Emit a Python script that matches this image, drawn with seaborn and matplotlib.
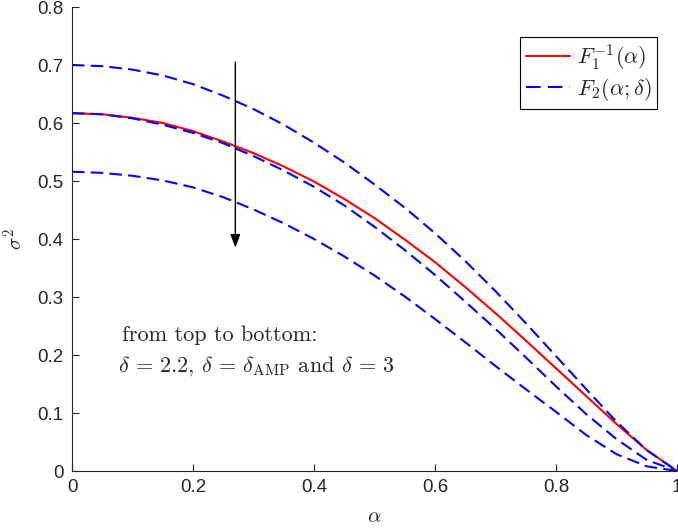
import numpy as np
import pandas as pd
import matplotlib
matplotlib.use("Agg")
import matplotlib.pyplot as plt
import seaborn as sns
from matplotlib.lines import Line2D

alpha = [0.0, 0.05, 0.1, 0.15, 0.2, 0.25, 0.3, 0.35, 0.4, 0.45, 0.5,
         0.55, 0.6, 0.65, 0.7, 0.75, 0.8, 0.85, 0.9, 0.95, 1.0]
f1_inv = [0.617, 0.615, 0.609, 0.600, 0.586, 0.568, 0.548, 0.525, 0.499, 0.469, 0.436,
          0.399, 0.360, 0.317, 0.272, 0.225, 0.177, 0.129, 0.081, 0.036, 0.0]
f2_d22 = [0.700, 0.698, 0.692, 0.682, 0.667, 0.647, 0.624, 0.597, 0.566, 0.532, 0.494,
          0.454, 0.410, 0.362, 0.310, 0.255, 0.198, 0.141, 0.085, 0.036, 0.0]
f2_damp = [0.617, 0.615, 0.608, 0.597, 0.583, 0.565, 0.543, 0.518, 0.490, 0.458, 0.421,
           0.381, 0.338, 0.292, 0.245, 0.196, 0.146, 0.098, 0.055, 0.019, 0.0]
f2_d3 = [0.516, 0.514, 0.509, 0.501, 0.489, 0.472, 0.451, 0.427, 0.400, 0.370, 0.337,
         0.301, 0.262, 0.222, 0.181, 0.141, 0.102, 0.062, 0.029, 0.008, 0.0]

xticks = [0, 0.2, 0.4, 0.6, 0.8, 1]
xticklabels = ["0", "0.2", "0.4", "0.6", "0.8", "1"]
yticks = [0, 0.1, 0.2, 0.3, 0.4, 0.5, 0.6, 0.7, 0.8]
yticklabels = ["0", "0.1", "0.2", "0.3", "0.4", "0.5", "0.6", "0.7", "0.8"]

sns.set_style("ticks")
plt.rcParams['font.family'] = ['Liberation Sans', 'DejaVu Sans']
plt.rcParams['mathtext.fontset'] = 'cm'
plt.rcParams['xtick.direction'] = 'in'
plt.rcParams['ytick.direction'] = 'in'

axcol = '#262626'
fig = plt.figure(figsize=(6.78, 5.29), dpi=100)
ax = fig.add_axes([72/678, 1-471/529, 605/678, (471-7)/529])

df = pd.DataFrame({"alpha": alpha, "f1": f1_inv, "d22": f2_d22, "damp": f2_damp, "d3": f2_d3})
dash = (0, (6, 3))
sns.lineplot(data=df, x="alpha", y="f1", ax=ax, color="#ff0000", linewidth=1.5)
sns.lineplot(data=df, x="alpha", y="d22", ax=ax, color="#0000ff", linewidth=1.5, linestyle=dash)
sns.lineplot(data=df, x="alpha", y="damp", ax=ax, color="#0000ff", linewidth=1.5, linestyle=dash)
sns.lineplot(data=df, x="alpha", y="d3", ax=ax, color="#0000ff", linewidth=1.5, linestyle=dash)

ax.set_xlim(0, 1)
ax.set_ylim(0, 0.8)
ax.set_xticks(xticks)
ax.set_xticklabels(xticklabels)
ax.set_yticks(yticks)
ax.set_yticklabels(yticklabels)
ax.tick_params(axis='both', labelsize=13.5, colors=axcol, length=5, width=0.8, pad=6)
for s in ['top', 'right']:
    ax.spines[s].set_visible(False)
for s in ['left', 'bottom']:
    ax.spines[s].set_color(axcol)
    ax.spines[s].set_linewidth(0.8)
ax.set_xlabel(r"$\alpha$", fontsize=15, color=axcol, labelpad=8)
ax.set_ylabel(r"$\sigma^2$", fontsize=15, color=axcol, labelpad=8)

ax.annotate("", xy=(0.27, 0.385), xytext=(0.27, 0.705),
            arrowprops=dict(arrowstyle="-|>,head_length=0.8,head_width=0.3", color="black", lw=1.0,
                            shrinkA=0, shrinkB=0))

ax.text(0.083, 0.234, "from top to bottom:", fontsize=16, family='cmr10', va='center')
ax.text(0.076, 0.181,
        r"$\delta\,=\,2.2$, $\delta\,=\,\delta_{\rm AMP}$ and $\delta\,=\,3$",
        fontsize=16, family='cmr10', va='center')

handles = [Line2D([], [], color="#ff0000", lw=1.5),
           Line2D([], [], color="#0000ff", lw=1.5, linestyle=(0, (7, 3.5)))]
leg = ax.legend(handles, [r"$F_1^{-1}(\alpha)$", r"$F_2(\alpha;\delta)$"],
                loc='upper right', bbox_to_anchor=(0.967, 0.935), borderaxespad=0,
                fontsize=16, frameon=True, fancybox=False, framealpha=1,
                edgecolor='black', handlelength=2.0, handletextpad=0.3,
                borderpad=0.25, labelspacing=0.15)
leg.get_frame().set_linewidth(0.8)

fig.savefig("out.png", dpi=100)
